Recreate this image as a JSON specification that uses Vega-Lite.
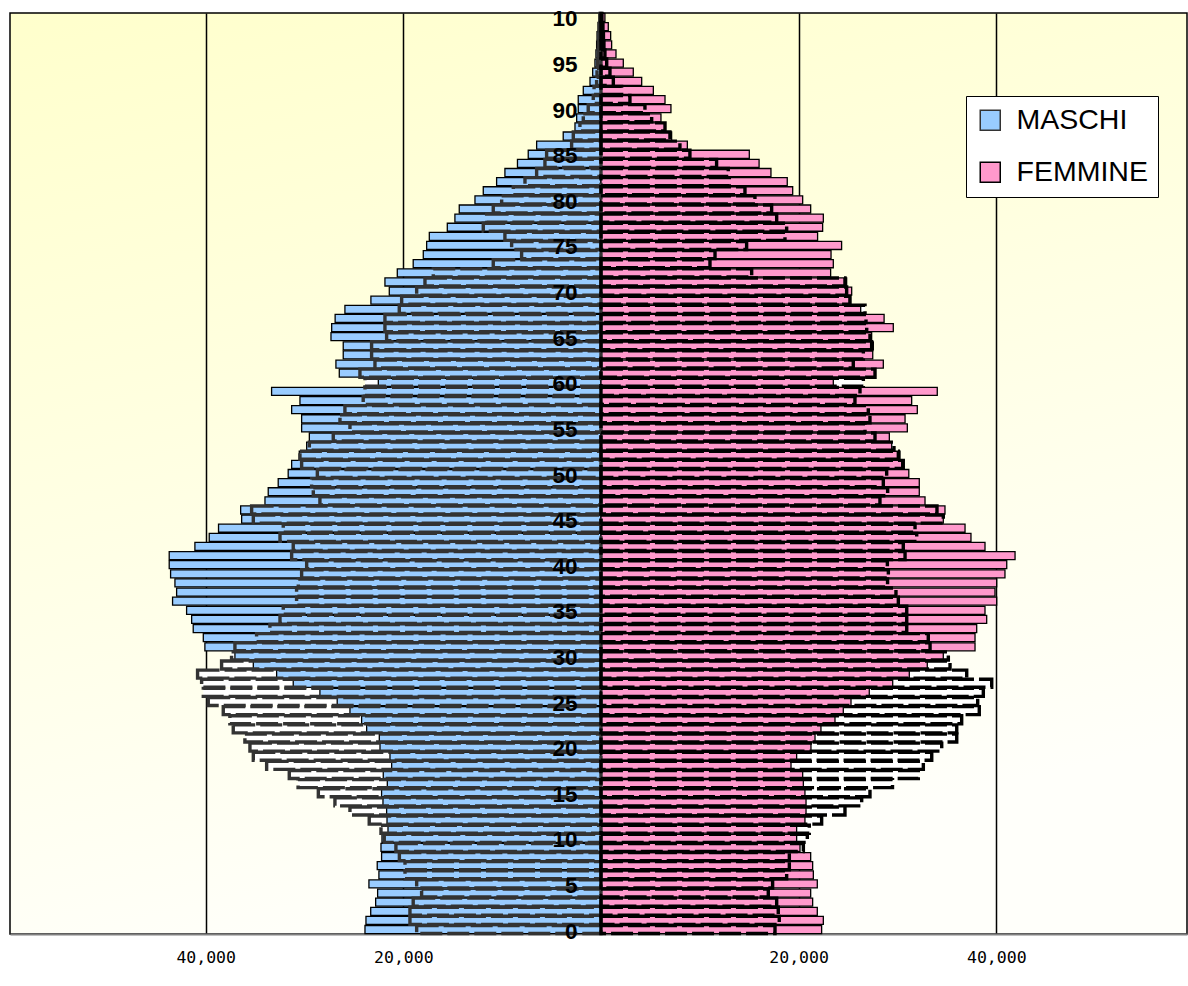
{
  "$schema": "https://vega.github.io/schema/vega-lite/v6.json",
  "autosize": "none",
  "width": 1177,
  "height": 921,
  "padding": {"left": 10, "top": 13, "right": 1, "bottom": 52},
  "background": "white",
  "config": {
    "view": {"fill": {"gradient": "linear", "x1": 0, "y1": 0, "x2": 0.3, "y2": 1, "stops": [{"offset": 0, "color": "#FFFFCC"}, {"offset": 1, "color": "#FFFFFA"}]}, "stroke": "black", "strokeWidth": 1.5},
    "legend": {"orient": "none", "legendX": 956, "legendY": 83, "strokeColor": "black", "fillColor": "white", "padding": 10, "symbolType": "square", "symbolSize": 400, "symbolStrokeColor": "black", "symbolStrokeWidth": 1.5, "labelFont": "Liberation Sans", "labelFontSize": 28.5, "labelColor": "black", "rowPadding": 23, "labelOffset": 12, "labelLimit": 300}
  },
  "data": {"values": [
{"age":0,"sex":"MASCHI","v":-23880,"o":-18650},{"age":1,"sex":"MASCHI","v":-23780,"o":-19330},{"age":2,"sex":"MASCHI","v":-23300,"o":-19330},{"age":3,"sex":"MASCHI","v":-22800,"o":-19000},{"age":4,"sex":"MASCHI","v":-22600,"o":-18150},{"age":5,"sex":"MASCHI","v":-23480,"o":-18650},{"age":6,"sex":"MASCHI","v":-22470,"o":-19830},{"age":7,"sex":"MASCHI","v":-22640,"o":-19830},{"age":8,"sex":"MASCHI","v":-22200,"o":-20400},{"age":9,"sex":"MASCHI","v":-22260,"o":-20750},
{"age":10,"sex":"MASCHI","v":-22160,"o":-21930},{"age":11,"sex":"MASCHI","v":-21550,"o":-22260},{"age":12,"sex":"MASCHI","v":-21650,"o":-23450},{"age":13,"sex":"MASCHI","v":-21690,"o":-25400},{"age":14,"sex":"MASCHI","v":-22060,"o":-26920},{"age":15,"sex":"MASCHI","v":-22200,"o":-28600},{"age":16,"sex":"MASCHI","v":-21620,"o":-30650},{"age":17,"sex":"MASCHI","v":-22030,"o":-31540},{"age":18,"sex":"MASCHI","v":-21180,"o":-33830},{"age":19,"sex":"MASCHI","v":-21350,"o":-35180},
{"age":20,"sex":"MASCHI","v":-22360,"o":-35520},{"age":21,"sex":"MASCHI","v":-22430,"o":-36030},{"age":22,"sex":"MASCHI","v":-23710,"o":-37210},{"age":23,"sex":"MASCHI","v":-24220,"o":-37550},{"age":24,"sex":"MASCHI","v":-25400,"o":-38220},{"age":25,"sex":"MASCHI","v":-26690,"o":-39740},{"age":26,"sex":"MASCHI","v":-28440,"o":-40240},{"age":27,"sex":"MASCHI","v":-31140,"o":-40410},{"age":28,"sex":"MASCHI","v":-32820,"o":-40820},{"age":29,"sex":"MASCHI","v":-35180,"o":-38390},
{"age":30,"sex":"MASCHI","v":-37040,"o":-37380},{"age":31,"sex":"MASCHI","v":-40080,"o":-37040},{"age":32,"sex":"MASCHI","v":-40240,"o":-34850},{"age":33,"sex":"MASCHI","v":-41260,"o":-33500},{"age":34,"sex":"MASCHI","v":-41420,"o":-32480},{"age":35,"sex":"MASCHI","v":-41930,"o":-32150},{"age":36,"sex":"MASCHI","v":-43350,"o":-30800},{"age":37,"sex":"MASCHI","v":-42940,"o":-30800},{"age":38,"sex":"MASCHI","v":-43110,"o":-30630},{"age":39,"sex":"MASCHI","v":-43550,"o":-30290},
{"age":40,"sex":"MASCHI","v":-43690,"o":-29780},{"age":41,"sex":"MASCHI","v":-43690,"o":-31300},{"age":42,"sex":"MASCHI","v":-41090,"o":-31140},{"age":43,"sex":"MASCHI","v":-39640,"o":-32480},{"age":44,"sex":"MASCHI","v":-38700,"o":-32150},{"age":45,"sex":"MASCHI","v":-36360,"o":-35180},{"age":46,"sex":"MASCHI","v":-36460,"o":-35350},{"age":47,"sex":"MASCHI","v":-34000,"o":-28440},{"age":48,"sex":"MASCHI","v":-33670,"o":-29110},{"age":49,"sex":"MASCHI","v":-32660,"o":-29280},
{"age":50,"sex":"MASCHI","v":-31650,"o":-28700},{"age":51,"sex":"MASCHI","v":-31300,"o":-30290},{"age":52,"sex":"MASCHI","v":-30530,"o":-30460},{"age":53,"sex":"MASCHI","v":-29780,"o":-29510},{"age":54,"sex":"MASCHI","v":-29510,"o":-27090},{"age":55,"sex":"MASCHI","v":-30290,"o":-25400},{"age":56,"sex":"MASCHI","v":-30290,"o":-26410},{"age":57,"sex":"MASCHI","v":-31300,"o":-25910},{"age":58,"sex":"MASCHI","v":-30460,"o":-24060},{"age":59,"sex":"MASCHI","v":-33330,"o":-23880},
{"age":60,"sex":"MASCHI","v":-22530,"o":-23880},{"age":61,"sex":"MASCHI","v":-26480,"o":-24390},{"age":62,"sex":"MASCHI","v":-26820,"o":-22870},{"age":63,"sex":"MASCHI","v":-26080,"o":-23210},{"age":64,"sex":"MASCHI","v":-26080,"o":-23210},{"age":65,"sex":"MASCHI","v":-27320,"o":-21690},{"age":66,"sex":"MASCHI","v":-27250,"o":-21860},{"age":67,"sex":"MASCHI","v":-26900,"o":-21860},{"age":68,"sex":"MASCHI","v":-25910,"o":-20410},{"age":69,"sex":"MASCHI","v":-23280,"o":-20170},
{"age":70,"sex":"MASCHI","v":-21420,"o":-18650},{"age":71,"sex":"MASCHI","v":-21860,"o":-17810},{"age":72,"sex":"MASCHI","v":-20610,"o":-16970},{"age":73,"sex":"MASCHI","v":-19000,"o":-10900},{"age":74,"sex":"MASCHI","v":-17980,"o":-8030},{"age":75,"sex":"MASCHI","v":-17640,"o":-9040},{"age":76,"sex":"MASCHI","v":-17370,"o":-9720},{"age":77,"sex":"MASCHI","v":-15550,"o":-11910},{"age":78,"sex":"MASCHI","v":-14780,"o":-11570},{"age":79,"sex":"MASCHI","v":-14340,"o":-10900},
{"age":80,"sex":"MASCHI","v":-12750,"o":-10050},{"age":81,"sex":"MASCHI","v":-11910,"o":-8870},{"age":82,"sex":"MASCHI","v":-10560,"o":-7690},{"age":83,"sex":"MASCHI","v":-9720,"o":-6510},{"age":84,"sex":"MASCHI","v":-8450,"o":-5670},{"age":85,"sex":"MASCHI","v":-7360,"o":-5500},{"age":86,"sex":"MASCHI","v":-6510,"o":-2970},{"age":87,"sex":"MASCHI","v":-3820,"o":-2800},{"age":88,"sex":"MASCHI","v":-2630,"o":-2130},{"age":89,"sex":"MASCHI","v":-2460,"o":-1790},
{"age":90,"sex":"MASCHI","v":-2300,"o":-1290},{"age":91,"sex":"MASCHI","v":-2300,"o":-780},{"age":92,"sex":"MASCHI","v":-1790,"o":-700},{"age":93,"sex":"MASCHI","v":-1110,"o":-440},{"age":94,"sex":"MASCHI","v":-840,"o":-400},{"age":95,"sex":"MASCHI","v":-610,"o":-350},{"age":96,"sex":"MASCHI","v":-510,"o":-300},{"age":97,"sex":"MASCHI","v":-440,"o":-250},{"age":98,"sex":"MASCHI","v":-400,"o":-200},{"age":99,"sex":"MASCHI","v":-300,"o":-150},{"age":100,"sex":"MASCHI","v":-200,"o":-100},
{"age":0,"sex":"FEMMINE","v":22330,"o":17610},{"age":1,"sex":"FEMMINE","v":22500,"o":18040},{"age":2,"sex":"FEMMINE","v":21890,"o":17940},{"age":3,"sex":"FEMMINE","v":21420,"o":17780},{"age":4,"sex":"FEMMINE","v":21220,"o":16930},{"age":5,"sex":"FEMMINE","v":21890,"o":17370},{"age":6,"sex":"FEMMINE","v":21490,"o":18790},{"age":7,"sex":"FEMMINE","v":21420,"o":19060},{"age":8,"sex":"FEMMINE","v":21220,"o":19060},{"age":9,"sex":"FEMMINE","v":20140,"o":20480},
{"age":10,"sex":"FEMMINE","v":19800,"o":20880},{"age":11,"sex":"FEMMINE","v":19800,"o":21080},{"age":12,"sex":"FEMMINE","v":20640,"o":22330},{"age":13,"sex":"FEMMINE","v":20750,"o":24690},{"age":14,"sex":"FEMMINE","v":20750,"o":26380},{"age":15,"sex":"FEMMINE","v":20640,"o":27220},{"age":16,"sex":"FEMMINE","v":20480,"o":29500},{"age":17,"sex":"FEMMINE","v":20410,"o":32110},{"age":18,"sex":"FEMMINE","v":19230,"o":32620},{"age":19,"sex":"FEMMINE","v":19800,"o":33470},
{"age":20,"sex":"FEMMINE","v":21250,"o":34480},{"age":21,"sex":"FEMMINE","v":21660,"o":36000},{"age":22,"sex":"FEMMINE","v":22260,"o":36000},{"age":23,"sex":"FEMMINE","v":23680,"o":36500},{"age":24,"sex":"FEMMINE","v":24520,"o":38280},{"age":25,"sex":"FEMMINE","v":25300,"o":38120},{"age":26,"sex":"FEMMINE","v":27150,"o":38690},{"age":27,"sex":"FEMMINE","v":29520,"o":39540},{"age":28,"sex":"FEMMINE","v":31200,"o":37010},{"age":29,"sex":"FEMMINE","v":33020,"o":35320},
{"age":30,"sex":"FEMMINE","v":34640,"o":35150},{"age":31,"sex":"FEMMINE","v":37850,"o":33300},{"age":32,"sex":"FEMMINE","v":37850,"o":33120},{"age":33,"sex":"FEMMINE","v":38020,"o":30940},{"age":34,"sex":"FEMMINE","v":39030,"o":30940},{"age":35,"sex":"FEMMINE","v":38860,"o":30940},{"age":36,"sex":"FEMMINE","v":40040,"o":30090},{"age":37,"sex":"FEMMINE","v":39870,"o":29850},{"age":38,"sex":"FEMMINE","v":40040,"o":29000},{"age":39,"sex":"FEMMINE","v":40880,"o":29080},
{"age":40,"sex":"FEMMINE","v":41060,"o":28980},{"age":41,"sex":"FEMMINE","v":41900,"o":30770},{"age":42,"sex":"FEMMINE","v":38860,"o":30590},{"age":43,"sex":"FEMMINE","v":37440,"o":31950},{"age":44,"sex":"FEMMINE","v":36840,"o":31780},{"age":45,"sex":"FEMMINE","v":34640,"o":34640},{"age":46,"sex":"FEMMINE","v":34810,"o":34000},{"age":47,"sex":"FEMMINE","v":32790,"o":28230},{"age":48,"sex":"FEMMINE","v":32210,"o":29010},{"age":49,"sex":"FEMMINE","v":32210,"o":28570},
{"age":50,"sex":"FEMMINE","v":31150,"o":28910},{"age":51,"sex":"FEMMINE","v":30430,"o":30590},{"age":52,"sex":"FEMMINE","v":30260,"o":30090},{"age":53,"sex":"FEMMINE","v":29420,"o":29650},{"age":54,"sex":"FEMMINE","v":29180,"o":27730},{"age":55,"sex":"FEMMINE","v":31000,"o":26720},{"age":56,"sex":"FEMMINE","v":30770,"o":27220},{"age":57,"sex":"FEMMINE","v":32010,"o":27050},{"age":58,"sex":"FEMMINE","v":31440,"o":25700},{"age":59,"sex":"FEMMINE","v":34030,"o":26210},
{"age":60,"sex":"FEMMINE","v":23510,"o":26550},{"age":61,"sex":"FEMMINE","v":27730,"o":27730},{"age":62,"sex":"FEMMINE","v":28570,"o":25530},{"age":63,"sex":"FEMMINE","v":27500,"o":26550},{"age":64,"sex":"FEMMINE","v":27560,"o":27390},{"age":65,"sex":"FEMMINE","v":27390,"o":27220},{"age":66,"sex":"FEMMINE","v":29580,"o":26890},{"age":67,"sex":"FEMMINE","v":28650,"o":26820},{"age":68,"sex":"FEMMINE","v":26280,"o":26720},{"age":69,"sex":"FEMMINE","v":25130,"o":25200},
{"age":70,"sex":"FEMMINE","v":25370,"o":24860},{"age":71,"sex":"FEMMINE","v":24860,"o":24690},{"age":72,"sex":"FEMMINE","v":23240,"o":15250},{"age":73,"sex":"FEMMINE","v":23510,"o":11030},{"age":74,"sex":"FEMMINE","v":23280,"o":11540},{"age":75,"sex":"FEMMINE","v":24350,"o":14740},{"age":76,"sex":"FEMMINE","v":21920,"o":18620},{"age":77,"sex":"FEMMINE","v":22430,"o":18790},{"age":78,"sex":"FEMMINE","v":22500,"o":17780},{"age":79,"sex":"FEMMINE","v":21220,"o":17270},
{"age":80,"sex":"FEMMINE","v":20410,"o":15580},{"age":81,"sex":"FEMMINE","v":19400,"o":14570},{"age":82,"sex":"FEMMINE","v":18850,"o":12990},{"age":83,"sex":"FEMMINE","v":17200,"o":12880},{"age":84,"sex":"FEMMINE","v":16000,"o":11700},{"age":85,"sex":"FEMMINE","v":15010,"o":9000},{"age":86,"sex":"FEMMINE","v":8740,"o":7990},{"age":87,"sex":"FEMMINE","v":7150,"o":6980},{"age":88,"sex":"FEMMINE","v":6500,"o":6480},{"age":89,"sex":"FEMMINE","v":6070,"o":5130},
{"age":90,"sex":"FEMMINE","v":7080,"o":4450},{"age":91,"sex":"FEMMINE","v":6480,"o":2930},{"age":92,"sex":"FEMMINE","v":5300,"o":2090},{"age":93,"sex":"FEMMINE","v":4120,"o":1250},{"age":94,"sex":"FEMMINE","v":3270,"o":910},{"age":95,"sex":"FEMMINE","v":2260,"o":580},{"age":96,"sex":"FEMMINE","v":1520,"o":400},{"age":97,"sex":"FEMMINE","v":1080,"o":300},{"age":98,"sex":"FEMMINE","v":980,"o":250},{"age":99,"sex":"FEMMINE","v":740,"o":200},{"age":100,"sex":"FEMMINE","v":400,"o":100}
  ]},
  "encoding": {
    "y": {
      "field": "age", "type": "ordinal", "sort": "descending",
      "scale": {"paddingInner": 0.12, "paddingOuter": 0.05},
      "axis": {"title": null, "orient": "left", "offset": -567, "values": [0,5,10,15,20,25,30,35,40,45,50,55,60,65,70,75,80,85,90,95,100], "labelExpr": "datum.value == 100 ? '10' : datum.label", "labelFont": "Liberation Sans", "labelFontWeight": "bold", "labelFontSize": 22.5, "labelColor": "black", "labelPadding": 0, "labelOffset": 2, "labelAlign": "right", "labelBaseline": "middle", "ticks": false, "domain": false, "grid": false, "zindex": 2}
    }
  },
  "layer": [
    {
      "mark": {"type": "bar", "fill": "white", "strokeWidth": 0},
      "encoding": {
        "x": {"field": "o", "type": "quantitative", "scale": {"domain": [-59800, 59300], "nice": false, "zero": false},
          "axis": {"title": null, "orient": "bottom", "values": [-40000, -20000, 20000, 40000], "labelExpr": "format(abs(datum.value), ',')", "grid": true, "gridColor": "black", "gridWidth": 1.5, "gridOpacity": 1, "domain": true, "domainColor": "#808080", "domainWidth": 2, "ticks": false, "labelFont": "DejaVu Sans Mono", "labelFontSize": 16.5, "labelColor": "black", "labelPadding": 15, "zindex": 0}}
      }
    },
    {
      "mark": {"type": "bar", "stroke": "black", "strokeWidth": 1.3},
      "encoding": {
        "x": {"field": "v", "type": "quantitative"},
        "color": {"field": "sex", "type": "nominal", "scale": {"domain": ["MASCHI", "FEMMINE"], "range": ["#99CCFF", "#FF99CC"]}, "legend": {"title": null}}
      }
    },
    {
      "mark": {"type": "bar", "fill": "white", "fillOpacity": 0, "strokeWidth": 3.4, "strokeDash": [22, 5]},
      "encoding": {
        "x": {"field": "o", "type": "quantitative"},
        "stroke": {"field": "sex", "type": "nominal", "scale": {"domain": ["MASCHI", "FEMMINE"], "range": ["#333333", "#000000"]}, "legend": null}
      }
    }
  ]
}
